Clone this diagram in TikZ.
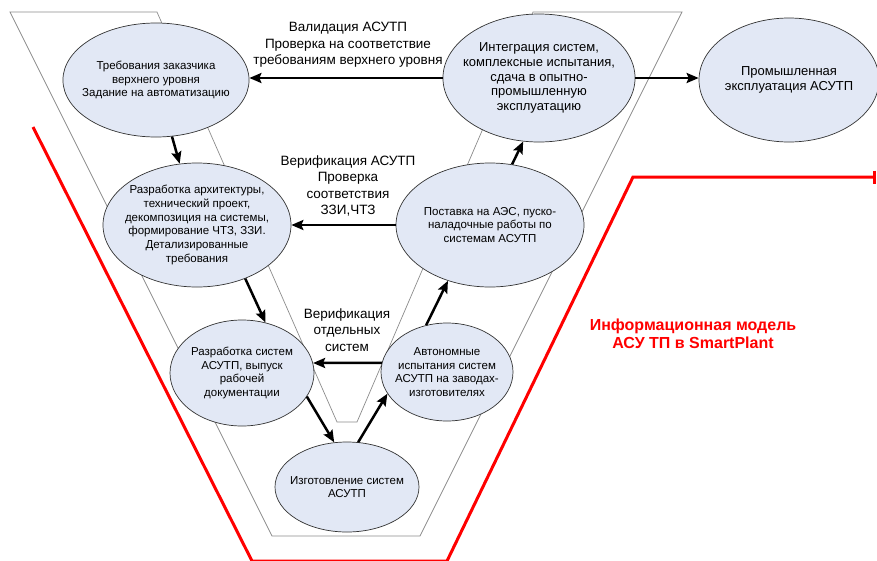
\documentclass[tikz,border=0pt]{standalone}
\usepackage{fontspec}
\setmainfont{Liberation Sans}
\usetikzlibrary{shapes.geometric,arrows.meta}
\definecolor{efill}{RGB}{226,232,245}
\definecolor{vgray}{RGB}{140,140,140}
\begin{document}
\begin{tikzpicture}[x=1pt,y=-1pt,
  ell/.style={ellipse,draw=black!80,line width=0.7pt,fill=efill,inner sep=-8pt,align=center,font=\fontsize{11.5}{13.7}\selectfont},
  bigtxt/.style={font=\fontsize{13}{14.8}\selectfont},
  flow/.style={line width=2.5pt,-{Stealth[length=12pt,width=10pt,inset=2pt]}},
  lbl/.style={align=center,font=\fontsize{13.5}{16.5}\selectfont,inner sep=0pt},
  redline/.style={red,line width=3pt},
  band/.style={vgray,line width=0.7pt}]
\useasboundingbox (0,0) rectangle (877,560);
\fill[white] (0,0) rectangle (877,560);

% V-shaped band
\draw[band] (10,12) -- (272,536) -- (420,536) -- (682,12) -- (533,12) -- (357,422) -- (337,422) -- (157,12) -- cycle;

% red outline
\coordinate (r1) at (33,127);
\coordinate (r2) at (252,561);
\coordinate (r3) at (447,561);
\coordinate (r4) at (633,177);
\coordinate (r5) at (876,177);
\draw[redline,line join=miter,-{Bar[width=13pt]}] (r1) -- (r2) -- (r3) -- (r4) -- (r5);

% ellipses
\node[ell,minimum width=186pt,minimum height=114pt] (e1) at (156,80) {Требования заказчика\\верхнего уровня\\Задание на автоматизацию};
\node[ell,bigtxt,minimum width=188pt,minimum height=128pt] (e2) at (539,78) {Интеграция систем,\\комплексные испытания,\\сдача в опытно-\\промышленную\\эксплуатацию};
\node[ell,bigtxt,minimum width=180pt,minimum height=124pt] (e3) at (789,80) {Промышленная\\эксплуатация АСУТП};
\node[ell,minimum width=188pt,minimum height=124pt] (e4) at (197,225) {Разработка архитектуры,\\технический проект,\\декомпозиция на системы,\\формирование ЧТЗ, ЗЗИ.\\Детализированные\\требования};
\node[ell,minimum width=188pt,minimum height=124pt] (e5) at (490,225) {Поставка на АЭС, пуско-\\наладочные работы по\\системам АСУТП};
\node[ell,minimum width=144pt,minimum height=106pt] (e6) at (242,373) {Разработка систем\\АСУТП, выпуск\\рабочей\\документации};
\node[ell,minimum width=132pt,minimum height=98pt] (e7) at (447,372) {Автономные\\испытания систем\\АСУТП на заводах-\\изготовителях};
\node[ell,minimum width=144pt,minimum height=90pt] (e8) at (347,487) {Изготовление систем\\АСУТП};

% labels
\node[lbl] (l1) at (348,45) {Валидация АСУТП\\Проверка на соответствие\\требованиям верхнего уровня};
\node[lbl] (l2) at (348,186) {Верификация АСУТП\\Проверка\\соответствия\\ЗЗИ,ЧТЗ};
\node[lbl] (l3) at (347,330) {Верификация\\отдельных\\систем};
\node[font=\bfseries\fontsize{16}{18}\selectfont,text=red,align=center,inner sep=0pt] (info) at (693,334) {Информационная модель\\АСУ ТП в SmartPlant};

% arrows
\draw[flow] (e2.west) -- (e2.west -| e1.east);
\draw[flow] (e2.east) -- (e2.east -| e3.west);
\draw[flow] (e1) -- (e4);
\draw[flow] (e4.-48) -- (e6.65);
\draw[flow] (e6.-20) -- (e8.106);
\draw[flow] (e8.76) -- (e7.200);
\draw[flow] (e7.114) -- (e5.233);
\draw[flow] (e5.70) -- (e2.256);
\draw[flow] (e5.west) -- (e4.east);
\draw[flow] (e7.172) -- (e6.8);
\end{tikzpicture}
\end{document}
